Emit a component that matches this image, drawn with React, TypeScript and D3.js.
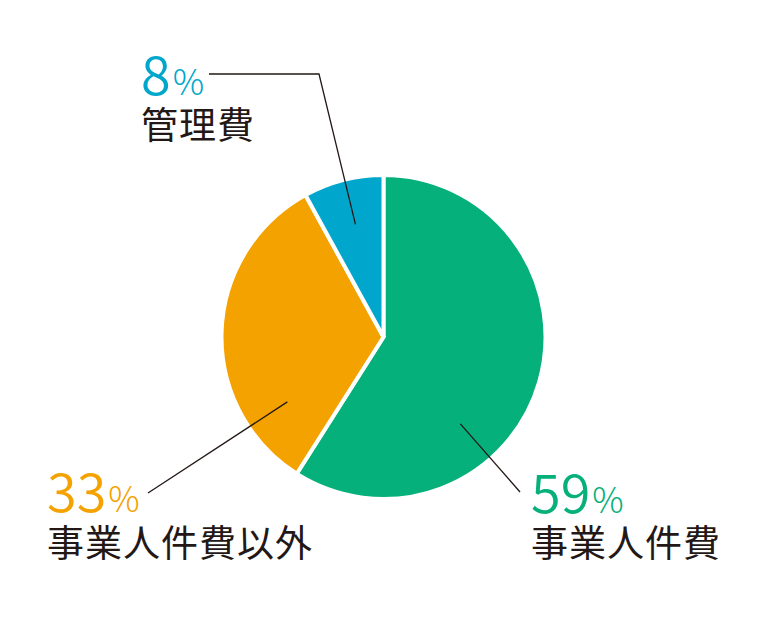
import { useEffect } from 'react';
import * as d3 from 'd3';

// Budget breakdown (share of total, %)
const labels = ['事業人件費', '事業人件費以外', '管理費'];
const values = [59, 33, 8];
const colors = ['#06b07b', '#f4a200', '#00a6cb'];

// angle (deg, clockwise from top) where each leader line touches its slice
const leaderAngles = [138.5, 236, 346];

const W = 768;
const H = 618;
const cx = 383.5;
const cy = 337;
const R = 162;
const ink = '#231815';
const font = '"Noto Sans CJK JP", "Noto Sans", sans-serif';

export default function App() {
  useEffect(() => {
    document.body.style.margin = '0';
  }, []);

  const pie = d3.pie<number>().sort(null).value(d => d).startAngle(0).endAngle(2 * Math.PI);
  const arcs = pie(values);
  const arc = d3.arc<d3.PieArcDatum<number>>().innerRadius(0).outerRadius(R);

  const rad = d3.scaleLinear().domain([0, 360]).range([0, 2 * Math.PI]);
  const pt = (deg: number, r: number): [number, number] => [
    cx + r * Math.sin(rad(deg)),
    cy - r * Math.cos(rad(deg)),
  ];

  // label layout: text x, number baseline, name baseline, leader points after the inner point
  const layout = [
    { x: 531, numY: 513, nameY: 557, leader: [[520, 492]] },
    { x: 47, numY: 512, nameY: 557, leader: [[148, 493]] },
    { x: 141, numY: 95, nameY: 139, leader: [[319, 74], [209, 74]] },
  ];

  const line = d3.line();

  return (
    <svg width={W} height={H} style={{ display: 'block' }}>
      <rect width={W} height={H} fill="#fff" />
      <g transform={`translate(${cx},${cy})`}>
        {arcs.map((a, i) => (
          <path key={i} d={arc(a) ?? ''} fill={colors[i]} stroke="#fff" strokeWidth={4} />
        ))}
      </g>
      {layout.map((l, i) => (
        <path
          key={'l' + i}
          d={line([pt(leaderAngles[i], 116), ...(l.leader as [number, number][])]) ?? ''}
          fill="none"
          stroke={ink}
          strokeWidth={1.3}
        />
      ))}
      {layout.map((l, i) => (
        <g key={'t' + i} fontFamily={font}>
          <text x={l.x} y={l.numY} fill={colors[i]} fontSize={54} fontWeight={350}>
            {values[i]}
            <tspan fontSize={35} fontWeight={300} dx={2}>%</tspan>
          </text>
          <text x={l.x} y={l.nameY} fill={ink} fontSize={37} letterSpacing={1}>
            {labels[i]}
          </text>
        </g>
      ))}
    </svg>
  );
}
